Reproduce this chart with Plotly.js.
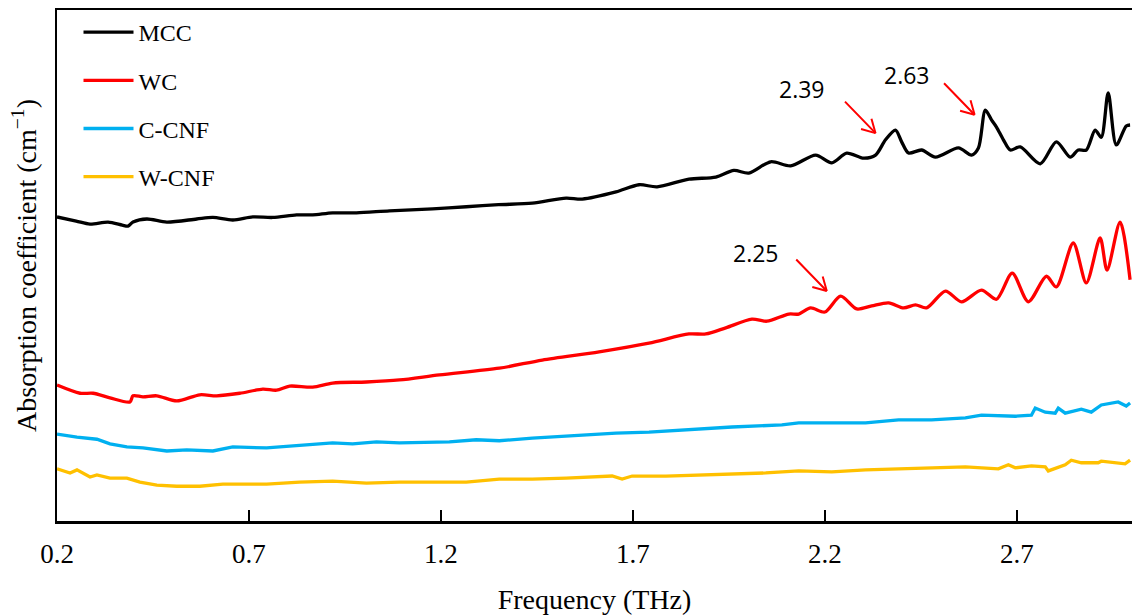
<!DOCTYPE html>
<html><head><meta charset="utf-8">
<script src="https://cdn.plot.ly/plotly-3.0.1.min.js"></script>
<style>html,body{margin:0;padding:0;background:#fff}#chart{width:1132px;height:616px}</style>
</head><body><div id="chart"></div>
<script>
// Frequency (THz) and absorption coefficient (arbitrary offset scale)
const mccFreq = [0.200,0.250,0.286,0.333,0.370,0.385,0.398,0.434,0.486,0.564,0.606,0.658,0.710,0.762,0.824,0.866,0.918,0.980,1.066,1.178,1.266,1.350,1.438,1.526,1.568,1.656,1.716,1.763,1.846,1.916,1.963,2.002,2.059,2.111,2.176,2.218,2.257,2.301,2.332,2.358,2.384,2.400,2.418,2.452,2.488,2.548,2.582,2.600,2.618,2.634,2.647,2.665,2.683,2.709,2.761,2.803,2.839,2.860,2.881,2.904,2.920,2.938,2.959,2.985,2.995];
const mccAbs  = [59.5,58.7,58.1,58.5,57.9,57.7,58.5,59.1,58.5,59.1,59.4,58.9,59.5,59.4,59.9,59.9,60.3,60.3,60.7,61.1,61.5,61.9,62.2,63.2,63.0,64.4,65.8,65.4,66.9,67.3,68.6,68.1,70.3,69.5,71.6,70.1,72.0,71.0,71.6,74.6,76.5,74.2,72.0,72.6,71.2,73.0,71.6,73.0,80.4,78.5,77.1,74.6,72.6,73.2,69.9,74.2,71.2,72.6,72.6,76.5,75.1,83.8,73.6,77.3,77.5];

const wcFreq = [0.200,0.260,0.294,0.338,0.390,0.398,0.424,0.460,0.512,0.572,0.616,0.676,0.736,0.772,0.806,0.866,0.918,1.006,1.092,1.196,1.352,1.464,1.612,1.742,1.846,1.890,1.942,2.010,2.049,2.106,2.132,2.163,2.200,2.241,2.283,2.322,2.366,2.405,2.436,2.465,2.514,2.556,2.608,2.647,2.688,2.730,2.777,2.803,2.847,2.881,2.917,2.935,2.969,2.995];
const wcAbs  = [26.6,25.0,25.0,24.1,23.3,24.5,24.3,24.5,23.5,24.7,24.5,25.0,25.8,25.6,26.4,26.2,27.0,27.2,27.6,28.6,29.9,31.5,33.1,34.8,36.6,36.6,37.8,39.5,39.1,40.5,40.5,41.7,40.9,44.0,41.5,42.1,42.7,41.7,42.3,41.7,45.0,42.9,45.2,43.4,48.5,42.9,47.9,45.8,54.4,46.6,55.4,49.1,58.5,47.2];

const ccnfFreq = [0.200,0.252,0.304,0.338,0.382,0.424,0.486,0.538,0.606,0.658,0.746,0.814,0.832,0.918,0.970,1.032,1.092,1.222,1.292,1.352,1.438,1.526,1.612,1.656,1.742,1.828,1.958,2.088,2.132,2.218,2.306,2.392,2.478,2.566,2.608,2.696,2.738,2.748,2.774,2.800,2.808,2.826,2.868,2.894,2.920,2.964,2.985,2.995];
const ccnfAbs  = [17.0,16.4,16.0,15.1,14.5,14.3,13.7,13.9,13.7,14.5,14.3,14.7,14.9,15.3,15.1,15.5,15.3,15.5,15.9,15.7,16.2,16.6,17.0,17.2,17.4,17.8,18.4,18.8,19.2,19.2,19.2,19.8,19.8,20.2,20.7,20.5,20.7,22.1,21.3,21.1,22.1,21.1,21.9,21.3,22.7,23.3,22.5,23.1];

const wcnfFreq = [0.200,0.234,0.252,0.286,0.304,0.338,0.382,0.416,0.460,0.512,0.572,0.632,0.746,0.832,0.918,1.006,1.092,1.178,1.266,1.352,1.438,1.526,1.612,1.646,1.672,1.698,1.786,1.872,1.958,2.046,2.132,2.218,2.306,2.392,2.478,2.566,2.652,2.678,2.696,2.738,2.774,2.782,2.826,2.842,2.868,2.912,2.920,2.946,2.982,2.995];
const wcnfAbs  = [10.2,9.4,10.0,8.6,9.0,8.4,8.4,7.6,7.0,6.8,6.8,7.2,7.2,7.6,7.8,7.4,7.6,7.6,7.6,8.2,8.2,8.4,8.8,8.8,8.2,8.8,8.8,9.0,9.2,9.4,9.8,9.6,10.0,10.2,10.4,10.6,10.2,11.0,10.4,10.8,10.6,9.8,11.0,11.9,11.4,11.4,11.7,11.5,11.2,11.9];

const seriesNames = ['MCC','WC','C-CNF','W-CNF'];
const tickVals = [0.2,0.7,1.2,1.7,2.2,2.7];
const tickText = ['0.2','0.7','1.2','1.7','2.2','2.7'];

// Peak annotations
const peakText     = ['2.39','2.63','2.25'];
const peakTextFreq = [2.140,2.415,2.020];
const peakTextAbs  = [84.5,87.3,52.4];
const arrowTipFreq = [2.332,2.590,2.205];
const arrowTipAbs  = [75.9,79.5,45.0];

const colors = ['#000000','#FF0000','#00B0F0','#FFC000'];
const xs = [mccFreq, wcFreq, ccnfFreq, wcnfFreq];
const ys = [mccAbs, wcAbs, ccnfAbs, wcnfAbs];

const traces = seriesNames.map((n,i)=>({
  x: xs[i], y: ys[i], name: n, type:'scatter', mode:'lines',
  legendgroup: 'g'+i,
  line: {color: colors[i], width: 3.3, shape: i<2 ? 'spline' : 'linear', smoothing: 0.8}
}));

const annotations = [];
const arrowStyle = {xref:'x', yref:'y', text:'', showarrow:true, arrowhead:0, arrowwidth:2, arrowcolor:'#FF0000', standoff:0, startstandoff:0};
peakText.forEach((t,i)=>{
  annotations.push({x: peakTextFreq[i], y: peakTextAbs[i], xref:'x', yref:'y', text: t, showarrow:false,
    font:{family:'Open Sans', size:23, color:'#000'}});
  // shaft
  annotations.push(Object.assign({}, arrowStyle, {x: arrowTipFreq[i], y: arrowTipAbs[i], ax:-32, ay:-33}));
  // open V head (two barbs)
  annotations.push(Object.assign({}, arrowStyle, {x: arrowTipFreq[i], y: arrowTipAbs[i], ax:-16, ay:-4.5}));
  annotations.push(Object.assign({}, arrowStyle, {x: arrowTipFreq[i], y: arrowTipAbs[i], ax:-4.5, ay:-16}));
});

const layout = {
  width:1132, height:616,
  margin:{l:57, r:0, t:10, b:95},
  paper_bgcolor:'#fff', plot_bgcolor:'#fff',
  font:{family:'Liberation Serif', color:'#000'},
  showlegend:true,
  legend:{x:0.02, y:1, xanchor:'left', yanchor:'top', bgcolor:'rgba(0,0,0,0)', itemwidth:50,
    font:{family:'Liberation Serif', size:24, color:'#000'}, tracegroupgap:14},
  xaxis:{range:[0.2,3.0], showgrid:false, zeroline:false, showline:true, linecolor:'#000', linewidth:2.5, mirror:true,
    tickmode:'array', tickvals:tickVals, ticktext:tickText, ticks:'inside', ticklen:11, tickwidth:1.5, tickcolor:'#000',
    ticklabelstandoff:7, tickfont:{family:'Liberation Serif', size:27, color:'#000'},
    title:{text:'Frequency (THz)', font:{family:'Liberation Serif', size:28, color:'#000'}, standoff:22}},
  yaxis:{range:[0,100], showgrid:false, zeroline:false, showline:true, linecolor:'#000', linewidth:2.5,
    showticklabels:false, ticks:'',
    title:{text:'Absorption coefficient (cm<sup>−1</sup>)', font:{family:'Liberation Serif', size:28, color:'#000'}, standoff:10}},
  annotations: annotations
};

Plotly.newPlot('chart', traces, layout, {displayModeBar:false, staticPlot:true});
</script></body></html>
